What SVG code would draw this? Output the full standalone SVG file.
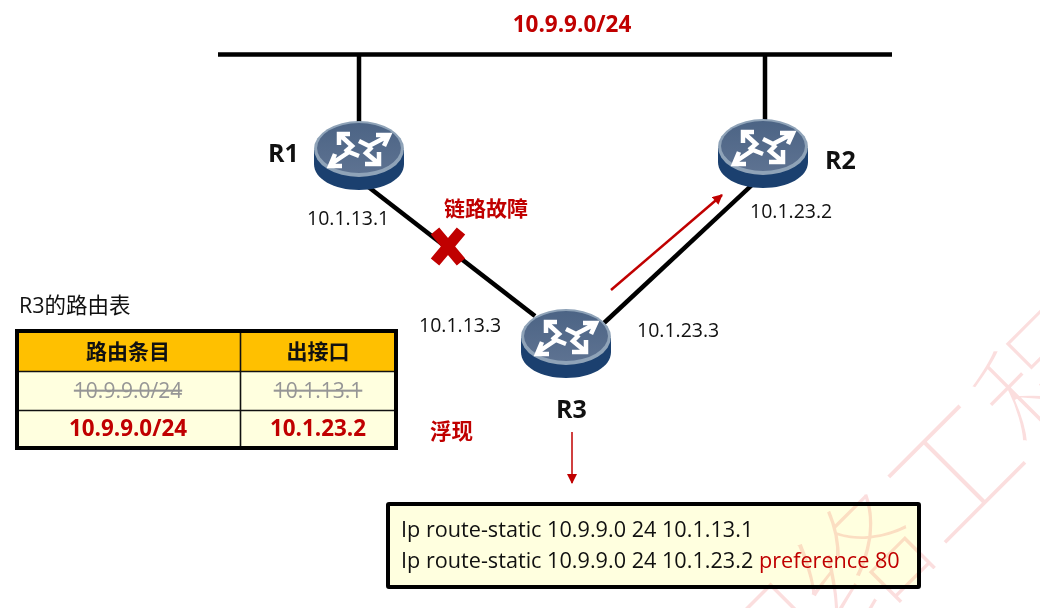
<svg xmlns="http://www.w3.org/2000/svg" width="1040" height="608" viewBox="0 0 1040 608">
<style>
text{font-family:"Open Sans","Noto Sans CJK SC",sans-serif;fill:#111}
.ip{font-size:19.500px}
.b{font-weight:700}
.red{fill:#c00000}
.m{text-anchor:middle}
.cmd{font-size:21.650px}
.gray{fill:#969696;font-size:21px;text-decoration:line-through}
.rn{font-size:25px;font-weight:700}
.wire{stroke:#000;stroke-width:4.500;fill:none}
.cell{fill:#ffffdf;mix-blend-mode:multiply}
.grid{stroke:#111;stroke-width:1.600;fill:none}
</style>
<defs>
<marker id="ah" viewBox="0 0 10 10" refX="9" refY="5" markerWidth="11" markerHeight="10" markerUnits="userSpaceOnUse" orient="auto"><path d="M0 0L10 5L0 10Z" fill="#c00000"/></marker>
<linearGradient id="top" x1="0" y1="0" x2="0" y2="1"><stop offset="0" stop-color="#4c6485"/><stop offset="1" stop-color="#5d7291"/></linearGradient>
<g id="router">
<path d="M-45 29V43C-45 58-25 69 0 69S45 58 45 43V29Z" fill="#1b406f"/>
<ellipse cx="0" cy="28" rx="45" ry="28" fill="#8fa3b8"/>
<ellipse cx="0" cy="27" rx="42" ry="25" fill="url(#top)"/>
<g fill="none" stroke="#fff" stroke-width="4.500" stroke-linejoin="miter">
<path d="M-20 24V13H-9M-19 14L-7 25L-14 31"/>
<path d="M17 14H30L25 25M29 15L10 25L0 20"/>
<path d="M-17 45H-29L-24 33M-28 43L-10 31L0 35"/>
<path d="M6 43H20V31M19 42L7 32L13 26"/>
</g>
</g>
</defs>
<g id="watermark" opacity="0.13"><text transform="translate(758 735) rotate(-45)" font-size="130" stroke="#fff" stroke-width="2.500" style="fill:#e00000;font-family:'Noto Sans CJK SC',sans-serif;font-weight:300">网络工程</text></g>
<g id="connectors">
<path class="wire" d="M218 54.500H892"/>
<path class="wire" d="M359 54V125M765 54V124"/>
<path class="wire" d="M362 182L535 316"/>
<path class="wire" d="M768 170L604 323"/>
<path d="M611 290L722 195" stroke="#c00000" stroke-width="2.500" fill="none" marker-end="url(#ah)"/>
<path d="M572 432V483" stroke="#c00000" stroke-width="1.500" fill="none" marker-end="url(#ah)"/>
</g>
<g id="network"><text class="b red m" x="572" y="32" font-size="22.500">10.9.9.0/24</text></g>
<g id="R1"><use href="#router" x="359" y="121"/><text class="rn" x="268" y="162">R1</text><text class="ip" x="307" y="225">10.1.13.1</text></g>
<g id="R2"><use href="#router" x="763" y="119"/><text class="rn" x="825" y="169">R2</text><text class="ip" x="750" y="218">10.1.23.2</text></g>
<g id="R3"><use href="#router" x="566" y="309"/><text class="rn" x="556" y="418">R3</text><text class="ip" x="419" y="332">10.1.13.3</text><text class="ip" x="637" y="337">10.1.23.3</text></g>
<g id="fault">
<path d="M435 231L461 262M461 231L435 262" stroke="#c00000" stroke-width="11" fill="none"/>
<text class="b red" x="444" y="216" font-size="21">链路故障</text>
</g>
<g id="route-table">
<text x="19" y="313" font-size="21.500">R3的路由表</text>
<rect x="17" y="331" width="379" height="40" fill="#ffc000"/>
<rect class="cell" x="17" y="371" width="379" height="77"/>
<path class="grid" d="M17 371.500H396M17 410.500H396M240.500 331V448"/>
<rect x="17" y="331" width="379" height="117" fill="none" stroke="#000" stroke-width="4"/>
<text class="b m" x="128" y="359" font-size="21">路由条目</text>
<text class="b m" x="318" y="359" font-size="21">出接口</text>
<text class="m gray" x="128" y="398">10.9.9.0/24</text>
<text class="m gray" x="318" y="398">10.1.13.1</text>
<text class="b red m" x="128" y="436" font-size="22.400">10.9.9.0/24</text>
<text class="b red m" x="318" y="436" font-size="22.400">10.1.23.2</text>
</g>
<g id="float-label"><text class="b red" x="430" y="439" font-size="21.500">浮现</text></g>
<g id="config">
<rect class="cell" x="388" y="504" width="531" height="83" rx="1"/>
<rect x="388" y="504" width="531" height="83" rx="1" fill="none" stroke="#000" stroke-width="4"/>
<text class="cmd" x="401" y="537">Ip route-static 10.9.9.0 24 10.1.13.1</text>
<text class="cmd" x="401" y="568">Ip route-static 10.9.9.0 24 10.1.23.2 <tspan class="red">preference 80</tspan></text>
</g>
</svg>
